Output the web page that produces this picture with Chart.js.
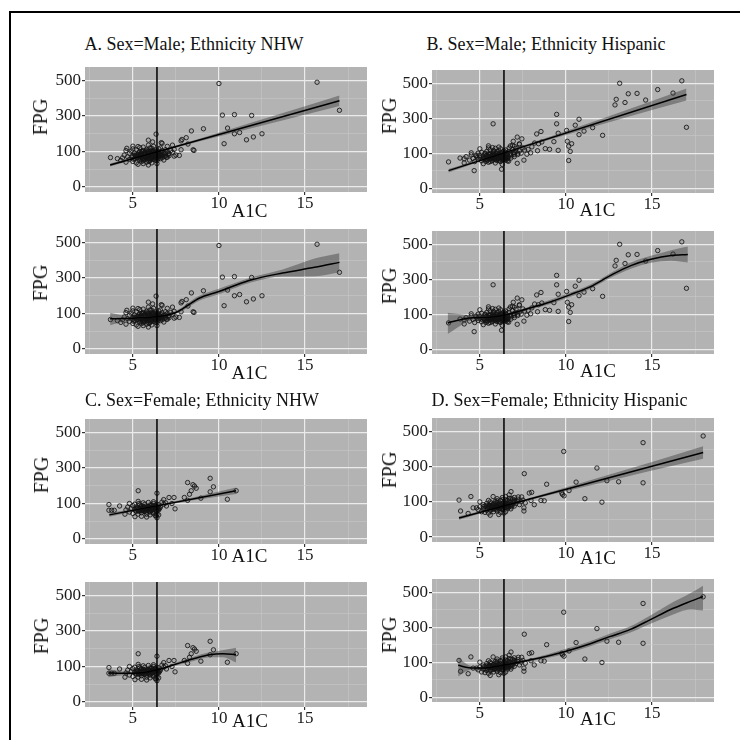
<!DOCTYPE html>
<html><head><meta charset="utf-8">
<script src="https://cdn.jsdelivr.net/npm/chart.js@4.4.1/dist/chart.umd.min.js"></script>
<style>
html,body{margin:0;padding:0;background:#fff;width:740px;height:740px;overflow:hidden;position:relative;}
#frame{position:absolute;left:9px;top:11px;width:900px;height:900px;border:2.5px solid #000;}
canvas{position:absolute;}
.t{position:absolute;font-family:'Liberation Serif',serif;color:#111;white-space:nowrap;line-height:1;transform:translate(-50%,-50%);}
.ttl{font-size:18px;}
.ax{font-size:19px;}
.fpg{font-size:20px;transform:translate(-50%,-50%) rotate(-90deg);}
</style></head><body>
<div id="frame"></div>
<script>
// ---------------- axes ----------------
const Y_BREAKS = [0, 100, 300, 500];
const Y_MINOR = [50, 200, 400];
const X_BREAKS = [5, 10, 15];
const X_MINOR = [2.5, 7.5, 12.5, 17.5];
const X_RANGE = [2.22, 18.6];
const Y_RANGE = [-14, 576];
const CUTOFF_A1C = 6.4;

// ---------------- data: Male, NHW ----------------
const MALE_NHW_POINTS = [
[10.0,483],[10.2,305],[10.9,308],[11.9,303],[10.5,232],[10.9,200],[11.2,207],[11.6,166],[12.0,182],[12.5,200],
[10.3,144],[9.1,228],[8.4,216],[8.5,110],[8.55,106],[8.1,178],[7.85,168],[7.8,160],[8.2,142],[7.8,110],
[7.7,89],[7.4,87],[6.35,198],[15.7,490],[17.0,332],[3.7,83],[4.1,80],[4.65,118],[5.0,130],[5.3,128],
[5.9,164],[6.15,154],[5.9,136],[6.7,146],[7.0,129],[7.3,136],[6.65,150],
[4.3,75],[4.4,82],[4.5,90],[4.6,70],[4.7,85],[4.8,95],[4.8,78],[4.9,102],[5.0,72],[5.0,88],
[5.1,96],[5.1,80],[5.2,68],[5.2,110],[5.3,92],[5.3,84],[5.4,76],[5.4,100],[5.5,88],[5.5,72],
[5.5,95],[5.6,105],[5.6,82],[5.6,66],[5.7,90],[5.7,78],[5.7,98],[5.8,86],[5.8,112],[5.8,70],
[5.9,94],[5.9,80],[5.9,102],[6.0,88],[6.0,75],[6.0,96],[6.0,120],[6.1,84],[6.1,92],[6.1,68],
[6.2,100],[6.2,86],[6.2,78],[6.3,94],[6.3,108],[6.3,82],[6.4,90],[6.4,74],[6.5,98],[6.5,85],
[6.5,115],[6.6,92],[6.6,80],[6.7,104],[6.7,88],[6.8,95],[6.8,76],[6.9,110],[6.9,90],[7.0,100],
[7.0,84],[7.1,94],[7.2,106],[7.3,98],[7.4,112],[7.5,90],[5.4,122],[5.0,115],[4.6,105],[6.2,130],
[5.6,125],[6.4,66],[5.3,64],[5.9,62],[6.1,118],[6.6,120],[5.2,90],[5.7,85],[6.3,97],[6.0,82],
[5.35,87],[5.45,93],[5.55,79],[5.65,91],[5.75,83],[5.85,97],[5.95,89],[6.05,81],[6.15,95],[6.25,89],
[6.35,85],[6.45,93],[6.55,87],[6.65,97],[5.25,82],[5.15,88],[5.85,76],[6.05,102],[6.25,96],[6.45,80],
[5.5,100],[5.8,104],[6.1,106],[6.4,103],[5.6,74],[5.95,72],[6.3,76],[6.7,82],[6.9,96],[7.1,88],
[5.2,84],[5.3,90],[5.4,86],[5.5,82],[5.6,88],[5.7,94],[5.8,90],[5.9,86],[6.0,92],[6.1,86],
[6.2,92],[6.3,88],[6.4,84],[6.5,92],[6.6,86],[5.45,78],[5.65,80],[5.85,84],[6.05,78],[6.25,82],
[6.45,86],[5.35,96],[5.55,100],[5.75,102],[5.95,96],[6.15,100],[6.35,102],[6.55,96],[6.75,92],[6.85,86],
[5.1,90],[4.95,84],[5.05,78],[6.95,84],[7.05,92],[5.5,90],[6.0,86],[6.2,82],[5.8,80],[6.4,96]
];
const MALE_NHW_LIN_X = [3.68, 17.0];
const MALE_NHW_LIN_Y = [62, 386];
const MALE_NHW_LINBAND_X = [3.68, 6, 9, 12, 15, 17];
const MALE_NHW_LINBAND_HI = [66, 95, 176, 266, 355, 416];
const MALE_NHW_LINBAND_LO = [58, 91, 160, 234, 307, 356];
const MALE_NHW_LOESS_X = [3.68, 4.5, 5.0, 6.36, 7.5, 8.1, 8.85, 10.0, 10.77, 11.9, 13.7, 15.56, 17.0];
const MALE_NHW_LOESS_Y = [85, 86, 87, 91, 106, 140, 186, 224, 252, 290, 328, 360, 388];
const MALE_NHW_LOESS_HI = [105, 94, 91, 93, 114, 152, 200, 240, 266, 304, 348, 410, 440];
const MALE_NHW_LOESS_LO = [67, 78, 83, 89, 99, 128, 172, 208, 238, 276, 308, 310, 332];

// ---------------- data: Male, Hispanic ----------------
const MALE_HISP_POINTS = [
[13.12,500],[16.73,514],[17.0,248],[15.33,464],[16.22,444],[13.62,440],[14.13,442],[14.63,404],[12.92,408],[12.85,376],
[13.43,390],[12.13,202],[11.55,246],[11.05,226],[10.76,294],[10.76,206],[10.54,260],[10.04,230],[10.33,154],[10.08,168],
[10.16,140],[10.25,110],[10.16,79],[9.46,322],[9.46,268],[9.55,214],[9.55,116],[9.3,166],[9.05,122],[8.8,126],
[8.6,164],[8.41,154],[8.55,224],[8.3,210],[8.35,114],[8.18,158],[8.02,136],[7.95,102],[7.73,97],[7.56,80],
[7.44,182],[7.17,192],[7.29,154],[6.94,168],[6.78,142],[5.77,268],[4.67,50],[3.18,75],[6.26,54],[3.85,86],
[4.09,84],[4.09,72],[4.5,102],[4.77,94],[5.5,142],[5.74,132],[7.17,71],[6.67,77],
[4.2,90],[4.4,80],[4.5,95],[4.6,85],[4.7,76],[4.8,92],[4.9,100],[4.9,82],[5.0,88],[5.1,78],
[5.1,105],[5.2,92],[5.2,70],[5.3,86],[5.3,98],[5.4,80],[5.4,110],[5.5,90],[5.5,74],[5.6,96],
[5.6,84],[5.6,120],[5.7,88],[5.7,78],[5.8,100],[5.8,92],[5.8,115],[5.9,84],[5.9,72],[6.0,95],
[6.0,88],[6.0,108],[6.1,80],[6.1,98],[6.2,90],[6.2,76],[6.2,125],[6.3,86],[6.3,100],[6.3,68],
[6.4,92],[6.4,82],[6.5,104],[6.5,88],[6.5,118],[6.6,94],[6.6,78],[6.7,110],[6.8,98],[6.8,86],
[6.9,120],[7.0,104],[7.0,90],[7.1,128],[7.2,96],[7.3,112],[7.4,100],[7.5,130],[7.6,118],[7.8,122],
[5.5,130],[5.0,125],[6.1,135],[5.9,128],[6.4,112],[6.7,130],[7.0,140],[7.3,150],[6.9,145],
[5.25,85],[5.35,93],[5.45,81],[5.55,97],[5.65,87],[5.75,95],[5.85,83],[5.95,99],[6.05,85],[6.15,93],
[6.25,83],[6.35,95],[6.45,87],[6.55,99],[6.65,89],[5.4,90],[5.7,102],[6.0,80],[6.3,106],[6.6,84],
[5.6,76],[5.9,94],[6.2,100],[6.5,80],[6.8,92],[5.3,100],[5.8,108],[6.1,114],[6.4,96],[7.0,96],
[5.2,88],[5.3,82],[5.4,94],[5.5,86],[5.6,90],[5.7,84],[5.8,96],[5.9,88],[6.0,92],[6.1,86],
[6.2,96],[6.3,90],[6.4,86],[6.5,94],[6.6,88],[5.45,88],[5.65,92],[5.85,88],[6.05,94],[6.25,88],
[6.45,90],[5.35,76],[5.55,84],[5.75,80],[5.95,80],[6.15,78],[6.35,82],[6.55,84],[6.75,96],[6.95,100],
[5.0,94],[4.85,88],[5.15,84],[7.1,108],[7.2,100],[5.5,98],[6.0,100],[6.2,84],[5.8,86],[6.4,100]
];
const MALE_HISP_LIN_X = [3.18, 17.0];
const MALE_HISP_LIN_Y = [50, 436];
const MALE_HISP_LINBAND_X = [3.18, 6, 9, 12, 15, 17];
const MALE_HISP_LINBAND_HI = [55, 97, 192, 294, 399, 470];
const MALE_HISP_LINBAND_LO = [45, 93, 176, 262, 347, 402];
const MALE_HISP_LOESS_X = [3.13, 4.42, 5.58, 6.36, 7.73, 9.09, 10.26, 11.43, 12.6, 13.77, 14.94, 16.11, 17.08];
const MALE_HISP_LOESS_Y = [75, 89, 91, 96, 130, 170, 212, 258, 322, 378, 414, 436, 442];
const MALE_HISP_LOESS_HI = [108, 97, 94, 99, 138, 182, 224, 270, 336, 396, 434, 466, 488];
const MALE_HISP_LOESS_LO = [43, 81, 88, 93, 122, 158, 200, 246, 308, 360, 394, 406, 396];

// ---------------- data: Female, NHW ----------------
const FEMALE_NHW_POINTS = [
[9.49,242],[9.68,194],[9.49,166],[10.49,124],[11.0,172],[8.18,218],[8.49,206],[8.58,198],[8.68,186],[8.39,172],
[8.29,152],[8.95,130],[7.99,134],[8.18,118],[7.45,85],[7.39,134],[7.1,134],[7.27,100],[6.95,93],[6.79,122],
[6.69,108],[6.40,158],[5.31,172],[5.31,112],[5.35,100],[3.61,97],[3.61,81],[3.77,81],[3.92,81],[4.23,93],
[4.54,70],[5.12,63],[5.5,64],[6.35,65],[6.4,70],
[4.6,82],[4.7,90],[4.8,76],[4.9,86],[5.0,94],[5.0,72],[5.1,84],[5.2,90],[5.2,78],[5.3,70],
[5.3,88],[5.4,96],[5.4,80],[5.5,86],[5.5,74],[5.6,92],[5.6,82],[5.7,78],[5.7,98],[5.8,86],
[5.8,70],[5.9,90],[5.9,82],[6.0,76],[6.0,96],[6.1,88],[6.1,80],[6.2,100],[6.2,72],[6.3,86],
[6.3,94],[6.4,78],[6.4,88],[6.5,82],[6.5,96],[6.6,90],[6.3,66],[6.4,60],[6.5,68],[5.6,104],
[5.9,106],[6.2,110],[4.8,100],[5.1,98],[5.8,62],[6.0,68],[6.8,98],[6.9,104],
[5.25,84],[5.35,78],[5.45,90],[5.55,80],[5.65,88],[5.75,84],[5.85,92],[5.95,78],[6.05,86],[6.15,84],
[6.25,92],[6.35,80],[6.45,90],[6.55,86],[5.5,94],[5.8,76],[6.1,96],[6.4,98],[5.2,86],[6.0,90],
[5.3,82],[5.4,86],[5.5,80],[5.6,86],[5.7,82],[5.8,88],[5.9,84],[6.0,82],[6.1,90],[6.2,84],
[6.3,90],[6.4,82],[6.5,88],[5.45,84],[5.65,78],[5.85,82],[6.05,94],[6.25,86],[6.45,84],[5.15,80],
[5.95,86],[6.15,76],[6.35,92],[5.75,90],[5.55,88]
];
const FEMALE_NHW_LIN_X = [3.63, 11.0];
const FEMALE_NHW_LIN_Y = [68, 172];
const FEMALE_NHW_LINBAND_X = [3.63, 6, 8.5, 11.0];
const FEMALE_NHW_LINBAND_HI = [73, 92, 134, 190];
const FEMALE_NHW_LINBAND_LO = [63, 88, 118, 154];
const FEMALE_NHW_LOESS_X = [3.57, 4.3, 5.0, 6.36, 7.52, 8.48, 9.45, 10.22, 10.99];
const FEMALE_NHW_LOESS_Y = [82, 81, 81, 90, 114, 142, 166, 172, 168];
const FEMALE_NHW_LOESS_HI = [93, 87, 84, 92, 122, 154, 180, 192, 206];
const FEMALE_NHW_LOESS_LO = [70, 75, 78, 88, 106, 130, 152, 152, 122];

// ---------------- data: Female, Hispanic ----------------
const FEMALE_HISP_POINTS = [
[17.97,474],[14.48,436],[14.48,208],[13.06,214],[12.38,220],[11.8,292],[12.09,99],[11.1,118],[10.59,212],[10.18,164],
[9.87,386],[9.76,150],[9.89,134],[9.8,142],[8.88,200],[8.55,108],[8.74,106],[7.58,260],[7.56,83],[7.56,74],
[7.64,97],[8.16,92],[7.97,108],[8.01,154],[7.87,150],[7.43,128],[7.23,128],[6.81,158],[6.7,120],[6.9,116],
[4.48,130],[3.79,110],[3.88,74],[4.32,67],[4.61,83],[4.81,83],[5.77,130],
[4.9,78],[5.0,86],[5.1,72],[5.2,92],[5.2,80],[5.3,70],[5.3,88],[5.4,96],[5.4,76],[5.5,84],
[5.5,68],[5.6,90],[5.6,100],[5.7,78],[5.7,86],[5.8,94],[5.8,72],[5.9,82],[5.9,104],[6.0,88],
[6.0,74],[6.0,98],[6.1,80],[6.1,92],[6.2,86],[6.2,70],[6.2,108],[6.3,94],[6.3,78],[6.4,84],
[6.4,100],[6.4,68],[6.5,90],[6.5,112],[6.6,80],[6.6,96],[6.7,104],[6.7,86],[6.8,92],[6.9,100],
[7.0,88],[7.0,110],[7.1,96],[7.2,104],[7.3,92],[5.5,108],[6.0,118],[6.3,124],[6.5,130],[6.7,140],
[6.8,118],[7.0,125],[7.2,115],[7.4,100],[7.5,110],[5.0,100],[5.6,62],[6.1,64],[6.5,72],
[5.45,82],[5.55,90],[5.65,84],[5.75,92],[5.85,80],[5.95,88],[6.05,84],[6.15,96],[6.25,80],[6.35,88],
[6.45,94],[6.55,86],[6.65,92],[6.75,98],[6.85,86],[5.6,76],[5.9,96],[6.2,90],[6.5,100],[6.8,80],
[6.0,106],[6.3,112],[6.6,108],[5.4,90],[7.0,100],
[5.5,88],[5.6,84],[5.7,90],[5.8,86],[5.9,90],[6.0,84],[6.1,88],[6.2,94],[6.3,86],[6.4,92],
[6.5,84],[6.6,88],[6.7,94],[5.65,96],[5.85,88],[6.05,92],[6.25,86],[6.45,88],[6.65,84],[6.85,94],
[5.75,80],[5.95,78],[6.15,82],[6.35,80],[6.55,92],[6.75,88],[5.3,80],[5.2,86],[7.1,104],[6.9,92]
];
const FEMALE_HISP_LIN_X = [3.79, 17.97];
const FEMALE_HISP_LIN_Y = [54, 380];
const FEMALE_HISP_LINBAND_X = [3.79, 6, 9, 12, 15, 17.97];
const FEMALE_HISP_LINBAND_HI = [59, 85, 153, 239, 326, 416];
const FEMALE_HISP_LINBAND_LO = [49, 81, 137, 207, 278, 344];
const FEMALE_HISP_LOESS_X = [3.74, 4.36, 5.14, 6.3, 7.47, 8.84, 10.2, 11.37, 12.54, 13.71, 14.88, 16.05, 17.22, 17.96];
const FEMALE_HISP_LOESS_Y = [91, 84, 83, 91, 104, 132, 168, 204, 246, 286, 342, 400, 448, 476];
const FEMALE_HISP_LOESS_HI = [126, 91, 86, 93, 110, 142, 182, 218, 262, 304, 366, 434, 494, 538];
const FEMALE_HISP_LOESS_LO = [59, 77, 80, 89, 99, 122, 154, 190, 230, 268, 318, 366, 402, 396];

const TITLES = ['A. Sex=Male; Ethnicity NHW', 'B. Sex=Male; Ethnicity Hispanic', 'C. Sex=Female; Ethnicity NHW', 'D. Sex=Female; Ethnicity Hispanic'];

// ---------------- groups table built from the arrays ----------------
const GROUPS = {
  mnhw: {pts: MALE_NHW_POINTS, lin: [MALE_NHW_LIN_X, MALE_NHW_LIN_Y, MALE_NHW_LINBAND_X, MALE_NHW_LINBAND_HI, MALE_NHW_LINBAND_LO],
         lo: [MALE_NHW_LOESS_X, MALE_NHW_LOESS_Y, MALE_NHW_LOESS_X, MALE_NHW_LOESS_HI, MALE_NHW_LOESS_LO]},
  mhisp: {pts: MALE_HISP_POINTS, lin: [MALE_HISP_LIN_X, MALE_HISP_LIN_Y, MALE_HISP_LINBAND_X, MALE_HISP_LINBAND_HI, MALE_HISP_LINBAND_LO],
         lo: [MALE_HISP_LOESS_X, MALE_HISP_LOESS_Y, MALE_HISP_LOESS_X, MALE_HISP_LOESS_HI, MALE_HISP_LOESS_LO]},
  fnhw: {pts: FEMALE_NHW_POINTS, lin: [FEMALE_NHW_LIN_X, FEMALE_NHW_LIN_Y, FEMALE_NHW_LINBAND_X, FEMALE_NHW_LINBAND_HI, FEMALE_NHW_LINBAND_LO],
         lo: [FEMALE_NHW_LOESS_X, FEMALE_NHW_LOESS_Y, FEMALE_NHW_LOESS_X, FEMALE_NHW_LOESS_HI, FEMALE_NHW_LOESS_LO]},
  fhisp: {pts: FEMALE_HISP_POINTS, lin: [FEMALE_HISP_LIN_X, FEMALE_HISP_LIN_Y, FEMALE_HISP_LINBAND_X, FEMALE_HISP_LINBAND_HI, FEMALE_HISP_LINBAND_LO],
         lo: [FEMALE_HISP_LOESS_X, FEMALE_HISP_LOESS_Y, FEMALE_HISP_LOESS_X, FEMALE_HISP_LOESS_HI, FEMALE_HISP_LOESS_LO]}
};

// ---------------- layout ----------------
const LAYOUT = [
  {g:'mnhw',  fit:'lin', left:85,  top:62,  h:130, title:0, tx:194,   ty:43.5,  fx:40,  fy:117,   ax:249.5, ay:209.5},
  {g:'mhisp', fit:'lin', left:432, top:65,  h:128, title:1, tx:546,   ty:43.5,  fx:389, fy:116,   ax:597.5, ay:209},
  {g:'mnhw',  fit:'lo',  left:85,  top:224, h:130, title:-1,                    fx:40,  fy:282.5, ax:249.5, ay:371.5},
  {g:'mhisp', fit:'lo',  left:432, top:226, h:128, title:-1,                    fx:389, fy:285.5, ax:598,   ay:370},
  {g:'fnhw',  fit:'lin', left:85,  top:414, h:130, title:2, tx:202,   ty:400,   fx:41,  fy:475,   ax:249.5, ay:554.5},
  {g:'fhisp', fit:'lin', left:432, top:413, h:129, title:3, tx:559.5, ty:399.5, fx:389, fy:470,   ax:598,   ay:556.5},
  {g:'fnhw',  fit:'lo',  left:85,  top:577, h:130, title:-1,                    fx:41,  fy:636,   ax:250,   ay:720},
  {g:'fhisp', fit:'lo',  left:432, top:574, h:128, title:-1,                    fx:389, fy:635,   ax:598,   ay:717.5}
];
const PLOT_W = 283, YAXIS_W = 60, XAXIS_H = 30, PAD_R = 4;
const PANEL_BG = '#b3b3b3', GRID_MAJOR = '#ebebeb', GRID_MINOR = '#c7c7c7';
const BAND_COLOR = 'rgba(60,60,60,0.45)';

// ---------------- custom FPG scale: equal spacing between 0,100,300,500 ----------------
function toAxis(v) {
  const b = Y_BREAKS;
  if (v <= b[1]) return (v - b[0]) / (b[1] - b[0]);
  for (let i = 1; i < b.length - 1; i++) if (v <= b[i + 1]) return i + (v - b[i]) / (b[i + 1] - b[i]);
  const n = b.length - 1;
  return n - 1 + (v - b[n - 1]) / (b[n] - b[n - 1]);
}
function fromAxis(t) {
  const b = Y_BREAKS, n = b.length - 1;
  let i = Math.floor(t);
  if (i < 0) i = 0;
  if (i > n - 1) i = n - 1;
  return b[i] + (t - i) * (b[i + 1] - b[i]);
}
class FpgScale extends Chart.LinearScale {
  getPixelForValue(value) {
    const a = toAxis(this.min), b = toAxis(this.max);
    return this.getPixelForDecimal((toAxis(value) - a) / (b - a));
  }
  getValueForPixel(pixel) {
    const a = toAxis(this.min), b = toAxis(this.max);
    return fromAxis(a + this.getDecimalForPixel(pixel) * (b - a));
  }
}
FpgScale.id = 'fpg';
FpgScale.defaults = Chart.LinearScale.defaults;
Chart.register(FpgScale);

const panelBg = {
  id: 'panelBg',
  beforeDraw(chart) {
    const {ctx, chartArea: a} = chart;
    ctx.save();
    ctx.fillStyle = PANEL_BG;
    ctx.fillRect(a.left, a.top, a.right - a.left, a.bottom - a.top);
    ctx.restore();
  }
};

Chart.defaults.font.family = "'Liberation Serif', serif";
Chart.defaults.color = '#1a1a1a';

function xy(xs, ys) { return xs.map((x, i) => ({x: x, y: ys[i]})); }

function addText(cls, txt, x, y) {
  const d = document.createElement('div');
  d.className = 't ' + cls;
  d.textContent = txt;
  d.style.left = x + 'px';
  d.style.top = y + 'px';
  document.body.appendChild(d);
}

LAYOUT.forEach(p => {
  const g = GROUPS[p.g];
  const [fx, fy, bx, bhi, blo] = g[p.fit];
  const interp = p.fit === 'lo' ? 'monotone' : 'default';
  const cv = document.createElement('canvas');
  cv.width = YAXIS_W + PLOT_W + PAD_R;
  cv.height = p.h + XAXIS_H;
  cv.style.left = (p.left - YAXIS_W) + 'px';
  cv.style.top = p.top + 'px';
  document.body.appendChild(cv);

  const isMajX = v => X_BREAKS.includes(v);
  const isMajY = v => Y_BREAKS.includes(v);

  new Chart(cv, {
    type: 'line',
    data: {
      datasets: [
        {label: 'cutoff', data: [{x: CUTOFF_A1C, y: Y_RANGE[0]}, {x: CUTOFF_A1C, y: Y_RANGE[1]}],
         borderColor: '#000', borderWidth: 1.5, pointRadius: 0, order: 0, clip: 0},
        {label: 'fit', data: xy(fx, fy), borderColor: '#000', borderWidth: 1.5, pointRadius: 0,
         cubicInterpolationMode: interp, order: 1, clip: 0},
        {label: 'upper', data: xy(bx, bhi), borderWidth: 0, borderColor: 'rgba(0,0,0,0)', pointRadius: 0,
         cubicInterpolationMode: interp, fill: '+1', backgroundColor: BAND_COLOR, order: 2, clip: 0},
        {label: 'lower', data: xy(bx, blo), borderWidth: 0, borderColor: 'rgba(0,0,0,0)', pointRadius: 0,
         cubicInterpolationMode: interp, fill: false, order: 3, clip: 0},
        {label: 'points', data: g.pts.map(q => ({x: q[0], y: q[1]})), showLine: false,
         pointRadius: 2.2, pointBorderWidth: 1, pointBorderColor: 'rgba(20,20,20,0.85)',
         pointBackgroundColor: 'rgba(0,0,0,0.06)', order: 4, clip: 0}
      ]
    },
    options: {
      responsive: false,
      animation: false,
      devicePixelRatio: 1,
      layout: {padding: {left: 0, right: PAD_R, top: 0, bottom: 0}},
      plugins: {legend: {display: false}, tooltip: {enabled: false}},
      scales: {
        x: {
          type: 'linear', min: X_RANGE[0], max: X_RANGE[1],
          afterBuildTicks: s => { s.ticks = [...X_MINOR, ...X_BREAKS].sort((a, b) => a - b).map(v => ({value: v})); },
          afterFit: s => { s.height = XAXIS_H; s.paddingLeft = 0; s.paddingRight = 0; },
          ticks: {autoSkip: false, maxRotation: 0, padding: 0, callback: v => isMajX(v) ? String(v) : '',
                  font: {size: 17, lineHeight: 1}, color: '#1a1a1a'},
          grid: {
            color: c => isMajX(c.tick.value) ? GRID_MAJOR : GRID_MINOR,
            lineWidth: c => isMajX(c.tick.value) ? 1.2 : 0.6,
            tickColor: c => isMajX(c.tick.value) ? '#333' : 'rgba(0,0,0,0)',
            tickLength: 3
          },
          border: {display: false}
        },
        y: {
          type: 'fpg', min: Y_RANGE[0], max: Y_RANGE[1],
          afterBuildTicks: s => { s.ticks = [...Y_BREAKS, ...Y_MINOR].sort((a, b) => a - b).map(v => ({value: v})); },
          afterFit: s => { s.width = YAXIS_W; s.paddingTop = 0; s.paddingBottom = 0; },
          ticks: {autoSkip: false, padding: 1, callback: v => isMajY(v) ? String(v) : '',
                  font: {size: 17, lineHeight: 1}, color: '#1a1a1a'},
          grid: {
            color: c => isMajY(c.tick.value) ? GRID_MAJOR : GRID_MINOR,
            lineWidth: c => isMajY(c.tick.value) ? 1.2 : 0.6,
            tickColor: c => isMajY(c.tick.value) ? '#333' : 'rgba(0,0,0,0)',
            tickLength: 3
          },
          border: {display: false}
        }
      }
    },
    plugins: [panelBg]
  });

  if (p.title >= 0) addText('ttl', TITLES[p.title], p.tx, p.ty);
  addText('fpg', 'FPG', p.fx, p.fy);
  addText('ax', 'A1C', p.ax, p.ay);
});
</script>
</body></html>
